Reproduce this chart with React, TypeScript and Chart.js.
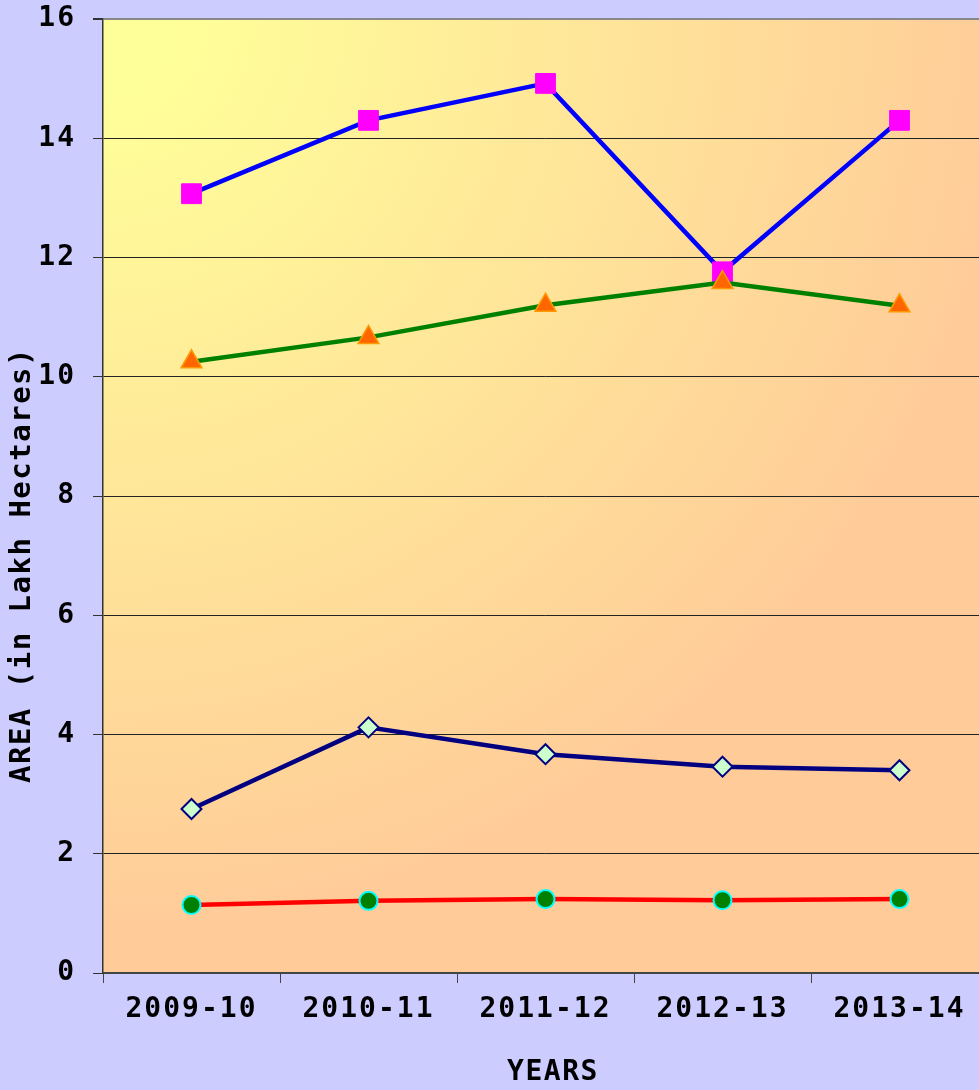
import React, { useEffect, useRef } from "react";
import { Chart, registerables } from "chart.js";

Chart.register(...registerables);

const categories = ["2009-10", "2010-11", "2011-12", "2012-13", "2013-14"];
const seriesA = [13.07, 14.3, 14.92, 11.76, 14.3];
const seriesB = [10.25, 10.66, 11.2, 11.58, 11.19];
const seriesC = [2.75, 4.12, 3.67, 3.46, 3.4];
const seriesD = [1.14, 1.21, 1.24, 1.22, 1.24];
const yTicks = [0, 2, 4, 6, 8, 10, 12, 14, 16];
const yTitle = "AREA (in Lakh Hectares)";
const xTitle = "YEARS";

const FONT = "'DejaVu Sans Mono', 'Liberation Mono', monospace";

const spacingPlugin = {
  id: "spacing",
  beforeUpdate(chart: any) {
    chart.ctx.letterSpacing = "2px";
  },
  beforeLayout(chart: any) {
    chart.ctx.letterSpacing = "2px";
  },
  beforeDraw(chart: any) {
    const ctx = chart.ctx;
    ctx.letterSpacing = "2px";
    const { left, top, right, bottom } = chart.chartArea;
    ctx.save();
    ctx.fillStyle = "#ccccff";
    ctx.fillRect(0, 0, chart.width, chart.height);
    const r = Math.max(right - left, bottom - top);
    const g = ctx.createRadialGradient(left, top, 0, left, top, r);
    g.addColorStop(0, "#ffff99");
    g.addColorStop(0.08, "#ffff99");
    g.addColorStop(0.95, "#ffcc99");
    g.addColorStop(1, "#ffcc99");
    ctx.fillStyle = g;
    ctx.fillRect(left, top, right - left, bottom - top);
    ctx.restore();
  },
  afterDraw(chart: any) {
    const ctx = chart.ctx;
    const { left, bottom } = chart.chartArea;
    ctx.save();
    ctx.letterSpacing = "1.5px";
    ctx.fillStyle = "#000000";
    ctx.font = `bold 29px ${FONT}`;
    ctx.textAlign = "center";
    ctx.textBaseline = "middle";
    ctx.save();
    ctx.translate(22, bottom - 408);
    ctx.rotate(-Math.PI / 2);
    ctx.fillText(yTitle, 0, 0);
    ctx.restore();
    ctx.font = `bold 28px ${FONT}`;
    ctx.fillText(xTitle, left + 450, bottom + 100);
    ctx.restore();
  },
};

export default function App() {
  const ref = useRef<HTMLCanvasElement | null>(null);

  useEffect(() => {
    if (!ref.current) return;
    const chart = new Chart(ref.current, {
      type: "line",
      data: {
        labels: categories,
        datasets: [
          {
            label: "Series A",
            data: seriesA,
            order: 4,
            borderColor: "#0000ff",
            borderWidth: 4.5,
            tension: 0,
            pointStyle: "rect",
            pointRadius: 14,
            pointBackgroundColor: "#ff00ff",
            pointBorderColor: "#ff00ff",
            pointBorderWidth: 1,
          },
          {
            label: "Series B",
            data: seriesB,
            order: 3,
            borderColor: "#008000",
            borderWidth: 4.5,
            tension: 0,
            pointStyle: "triangle",
            pointRadius: 12,
            pointBackgroundColor: "#ff6600",
            pointBorderColor: "#ff9900",
            pointBorderWidth: 1.5,
          },
          {
            label: "Series C",
            data: seriesC,
            order: 2,
            borderColor: "#000080",
            borderWidth: 4.5,
            tension: 0,
            pointStyle: "rectRot",
            pointRadius: 10,
            pointBackgroundColor: "#ccffcc",
            pointBorderColor: "#000080",
            pointBorderWidth: 2,
          },
          {
            label: "Series D",
            data: seriesD,
            order: 1,
            borderColor: "#ff0000",
            borderWidth: 4.5,
            tension: 0,
            pointStyle: "circle",
            pointRadius: 9,
            pointBackgroundColor: "#008000",
            pointBorderColor: "#00ffff",
            pointBorderWidth: 2,
          },
        ],
      },
      options: {
        animation: false,
        responsive: false,
        devicePixelRatio: 1,
        layout: { autoPadding: false, padding: { top: 19, right: 12, left: 0, bottom: 0 } },
        plugins: {
          legend: { display: false },
          tooltip: { enabled: false },
        },
        scales: {
          x: {
            type: "category",
            offset: true,
            afterFit(scale: any) {
              scale.height = 117;
              scale.paddingLeft = 0;
              scale.paddingRight = 0;
            },
            grid: {
              offset: true,
              drawOnChartArea: false,
              drawTicks: true,
              tickLength: 10,
              color: "#444444",
              lineWidth: 1,
            },
            border: { display: true, color: "#444444", width: 2 },
            ticks: {
              color: "#000000",
              padding: 10,
              maxRotation: 0,
              autoSkip: false,
              font: { family: FONT, size: 28, weight: "bold" },
            },
          },
          y: {
            min: 0,
            max: 16,
            afterFit(scale: any) {
              scale.width = 103;
              scale.paddingTop = 0;
              scale.paddingBottom = 0;
            },
            afterBuildTicks(scale: any) {
              scale.ticks = yTicks.map((v) => ({ value: v }));
            },
            grid: {
              drawTicks: true,
              tickLength: 10,
              color: (c: any) => (c.tick && c.tick.value === 16 ? "#888888" : "#222222"),
              lineWidth: (c: any) => (c.tick && c.tick.value === 16 ? 2 : 1),
              tickColor: "#333333",
            },
            border: { display: true, color: "#333333", width: 1.5 },
            ticks: {
              color: "#000000",
              padding: 17,
              font: { family: FONT, size: 28, weight: "bold" },
              callback: (v: any) => String(v),
            },
          },
        },
      },
      plugins: [spacingPlugin],
    });
    return () => chart.destroy();
  }, []);

  return (
    <div
      style={{
        position: "absolute",
        left: 0,
        top: 0,
        width: 979,
        height: 1090,
        overflow: "hidden",
        background: "#ccccff",
      }}
    >
      <canvas ref={ref} width={1000} height={1090} style={{ display: "block" }} />
    </div>
  );
}
